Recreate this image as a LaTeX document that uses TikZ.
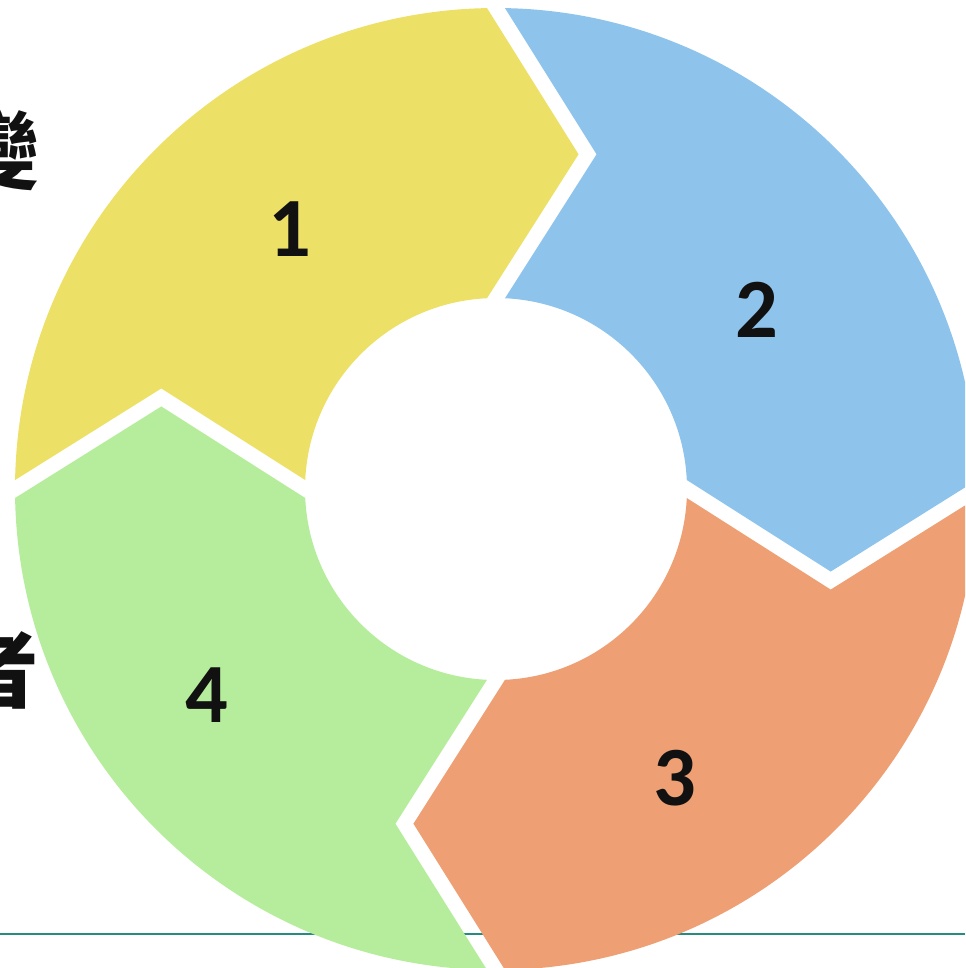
\documentclass[tikz,border=0pt]{standalone}
\usepackage{fontspec}
\setmainfont{Carlito}
\newfontfamily\cjk{Noto Sans CJK TC}
\definecolor{segyellow}{RGB}{236,225,102}
\definecolor{segblue}{RGB}{142,195,236}
\definecolor{segorange}{RGB}{238,160,116}
\definecolor{seggreen}{RGB}{182,237,156}
\definecolor{tealline}{RGB}{38,140,128}
\definecolor{digit}{RGB}{17,17,17}
\tikzset{
  numlabel/.style={inner sep=0pt, text=digit, font=\bfseries\fontsize{48}{48}\selectfont},
  cjklabel/.style={inner sep=0pt, text=digit, font=\cjk\bfseries\fontsize{48}{48}\selectfont},
  baseline rule/.style={draw=tealline, line width=1.6pt}
}
\begin{document}
\begin{tikzpicture}[x=0.02cm, y=0.02cm]
\useasboundingbox (0,0) rectangle (965,-968);
\clip (0,0) rectangle (965,-968);
% partially visible text at the left edge
\node[cjklabel, anchor=base east] (t1) at (40,-182) {變};
\node[cjklabel, anchor=base east] (t2) at (39,-701) {者};
% teal rule behind the ring
\coordinate (L1) at (0,-934);
\coordinate (L2) at (965,-934);
\draw[baseline rule] (L1) -- (L2);
% ring segments
\def\cx{496}\def\cy{-489}\def\RR{481}\def\rr{191}\def\rt{347}\def\ta{15.3}
\foreach \s/\e/\col in {180/90/segyellow, 90/0/segblue, 0/-90/segorange, -90/-180/seggreen}{
  \pgfmathsetmacro{\osx}{\cx+\RR*cos(\s-1.07)}
  \pgfmathsetmacro{\osy}{\cy+\RR*sin(\s-1.07)}
  \pgfmathsetmacro{\ltx}{\cx+\rt*cos(\e-\ta)-9*sin(\e)}
  \pgfmathsetmacro{\lty}{\cy+\rt*sin(\e-\ta)+9*cos(\e)}
  \pgfmathsetmacro{\iex}{\cx+\rr*cos(\e+2.7)}
  \pgfmathsetmacro{\iey}{\cy+\rr*sin(\e+2.7)}
  \pgfmathsetmacro{\ttx}{\cx+\rt*cos(\s-\ta)+9*sin(\s)}
  \pgfmathsetmacro{\tty}{\cy+\rt*sin(\s-\ta)-9*cos(\s)}
  \fill[\col] (\osx,\osy) arc[start angle=\s-1.07, end angle=\e+1.07, radius=\RR*0.02cm]
    -- (\ltx,\lty) -- (\iex,\iey)
    arc[start angle=\e+2.7, end angle=\s-2.7, radius=\rr*0.02cm]
    -- (\ttx,\tty) -- cycle;
}
% labels
\node[numlabel] (n1) at (290,-229) {1};
\node[numlabel] (n2) at (757,-310) {2};
\node[numlabel] (n3) at (675,-778) {3};
\node[numlabel] (n4) at (207,-695) {4};
\end{tikzpicture}
\end{document}
